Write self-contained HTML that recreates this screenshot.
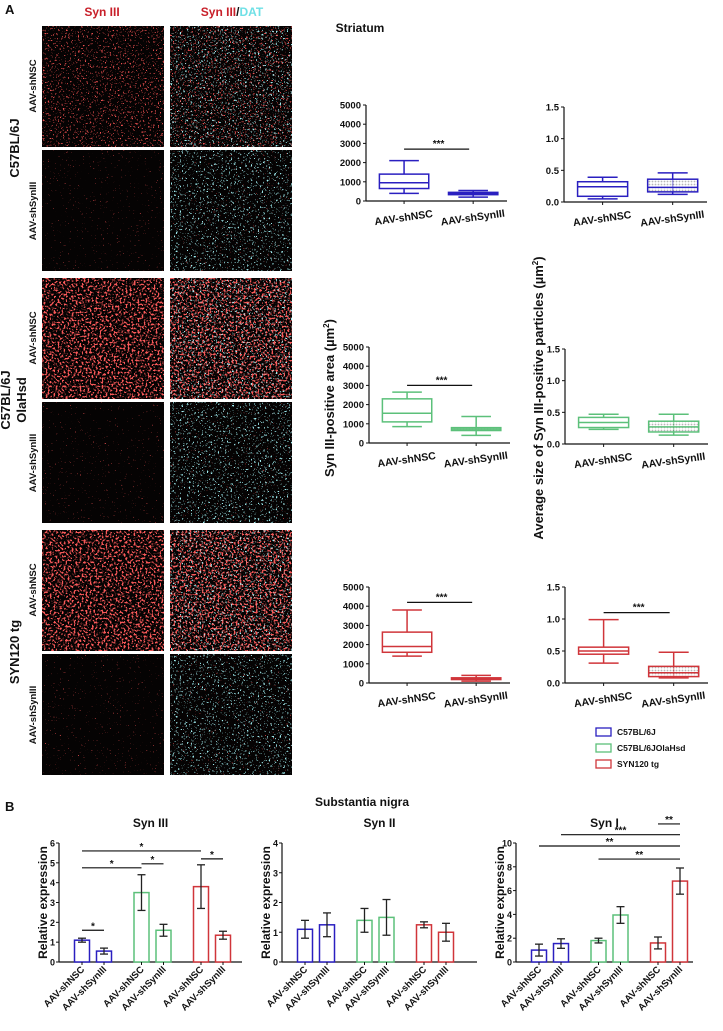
<!DOCTYPE html>
<html><head><meta charset="utf-8"><style>
body{margin:0;background:#fff;font-family:"Liberation Sans",Arial,sans-serif;}
svg text{font-family:"Liberation Sans",Arial,sans-serif;font-weight:bold;}
</style></head><body>
<svg id="fig" width="723" height="1026" viewBox="0 0 723 1026" xmlns="http://www.w3.org/2000/svg">
<defs>
<filter id="redHi" x="0" y="0" width="1" height="1"><feTurbulence type="fractalNoise" baseFrequency="0.5" numOctaves="2" seed="3"/><feColorMatrix type="matrix" values="0 0 0 0 0.95  0 0 0 0 0.1  0 0 0 0 0.1  20 0 0 0 -11.2"/></filter>
<filter id="redMid" x="0" y="0" width="1" height="1"><feTurbulence type="fractalNoise" baseFrequency="0.6" numOctaves="2" seed="7"/><feColorMatrix type="matrix" values="0 0 0 0 0.85  0 0 0 0 0.08  0 0 0 0 0.08  20 0 0 0 -12.8"/></filter>
<filter id="redLo" x="0" y="0" width="1" height="1"><feTurbulence type="fractalNoise" baseFrequency="0.6" numOctaves="2" seed="11"/><feColorMatrix type="matrix" values="0 0 0 0 0.5  0 0 0 0 0.05  0 0 0 0 0.05  20 0 0 0 -15.0"/></filter>
<filter id="cyan" x="0" y="0" width="1" height="1"><feTurbulence type="fractalNoise" baseFrequency="0.55" numOctaves="2" seed="21"/><feColorMatrix type="matrix" values="0 0 0 0 0.35  0 0 0 0 0.85  0 0 0 0 0.88  20 0 0 0 -13.0"/></filter>
<pattern id="hatch" width="3" height="3" patternUnits="userSpaceOnUse"><rect width="3" height="3" fill="#fff"/><circle cx="1.5" cy="1.5" r="0.9" fill="#888"/></pattern>
</defs>
<g id="imgs"></g>
<g id="charts"></g>
</svg>
<script>
// ---------- data ----------
const boxGroups = ["AAV-shNSC","AAV-shSynIII"];
const areaBlue  = [[400,650,950,1400,2100],[200,330,380,450,550]];
const areaGreen = [[850,1100,1550,2300,2650],[400,650,720,800,1380]];
const areaRed   = [[1400,1600,1900,2650,3800],[100,180,230,270,400]];
const sizeBlue  = [[0.05,0.09,0.24,0.32,0.39],[0.12,0.16,0.23,0.36,0.46]];
const sizeGreen = [[0.23,0.26,0.34,0.42,0.47],[0.14,0.19,0.27,0.36,0.47]];
const sizeRed   = [[0.31,0.45,0.50,0.56,0.99],[0.08,0.10,0.16,0.26,0.48]];
const areaTicks = [0,1000,2000,3000,4000,5000];
const sizeTicks = [0,0.5,1.0,1.5];
const barLabels = ["AAV-shNSC","AAV-shSynIII","AAV-shNSC","AAV-shSynIII","AAV-shNSC","AAV-shSynIII"];
const syn3Mean = [1.1,0.55,3.5,1.6,3.8,1.35];
const syn3Err  = [0.1,0.15,0.9,0.3,1.1,0.2];
const syn2Mean = [1.1,1.25,1.4,1.5,1.25,1.0];
const syn2Err  = [0.3,0.4,0.4,0.6,0.1,0.3];
const syn1Mean = [1.0,1.55,1.8,3.95,1.6,6.8];
const syn1Err  = [0.5,0.4,0.2,0.7,0.5,1.1];
const syn3Ticks=[0,1,2,3,4,5,6], syn2Ticks=[0,1,2,3,4], syn1Ticks=[0,2,4,6,8,10];
const colors=["#2a1fc0","#5cc07a","#d0353a"];
const NS="http://www.w3.org/2000/svg";
const C=document.getElementById('charts');
function el(tag,attrs,parent,text){const e=document.createElementNS(NS,tag);for(const k in attrs)e.setAttribute(k,attrs[k]);if(text!==undefined)e.textContent=text;(parent||C).appendChild(e);return e;}
function txt(x,y,s,size,anchor,parent,extra){const t=el('text',Object.assign({x:x,y:y,'font-size':size,'text-anchor':anchor||'middle',fill:'#111'},extra||{}),parent,s);return t;}

// ---------- images ----------
const I=document.getElementById('imgs');
const rows=[[26,121,'redMid'],[150,121,'redLo'],[278,121,'redHi'],[402,121,'redLo'],[530,121,'redHi'],[654,121,'redLo']];
rows.forEach((r,i)=>{
  [42,170].forEach((x,j)=>{
    const g=el('g',{},I);
    
    
    el('rect',{x:x,y:r[0],width:122,height:r[1],fill:'#050303'},g);
    el('rect',{x:x,y:r[0],width:122,height:r[1],filter:'url(#'+r[2]+')'},g);
    if(j==1) el('rect',{x:x,y:r[0],width:122,height:r[1],filter:'url(#cyan)'},g);
  });
});
let t;
t=txt(5,14,'A',13,'start');  
t=txt(102,16,'Syn III',12,'middle',C,{fill:'#c8202a'});  
t=el('text',{x:232,y:16,'font-size':12,'text-anchor':'middle'}); t.innerHTML='<tspan fill="#c8202a">Syn III</tspan><tspan fill="#111">/</tspan><tspan fill="#6fe0e6">DAT</tspan>';
 
const rowLabels=[[86,'AAV-shNSC'],[211,'AAV-shSynIII'],[338,'AAV-shNSC'],[463,'AAV-shSynIII'],[590,'AAV-shNSC'],[715,'AAV-shSynIII']];
rowLabels.forEach(([y,s],i)=>{t=txt(0,0,s,9.5,'middle',C,{transform:'translate(36,'+y+') rotate(-90)'});});
[[148,'C57BL/6J',null],[400,'C57BL/6J','OlaHsd'],[652,'SYN120 tg',null]].forEach(([y,a,b],i)=>{
  t=txt(0,0,a,13,'middle',C,{transform:'translate('+(b?10:19)+','+y+') rotate(-90)'});
  if(b){t=txt(0,0,b,13,'middle',C,{transform:'translate(26,'+y+') rotate(-90)'});}
});
t=txt(360,32,'Striatum',12);  
t=el('text',{'font-size':13,'text-anchor':'middle',transform:'translate(334,398) rotate(-90)',fill:'#111'});t.innerHTML='Syn III-positive area (µm<tspan font-size="8" dy="-5">2</tspan><tspan dy="5">)</tspan>';
 
t=el('text',{'font-size':13,'text-anchor':'middle',transform:'translate(543,398) rotate(-90)',fill:'#111'});t.innerHTML='Average size of Syn III-positive particles (µm<tspan font-size="8" dy="-5">2</tspan><tspan dy="5">)</tspan>';
 

// ---------- box plots ----------
function boxPlot(name,ax,yTop,yBot,xEnd,ticks,fmt,data,color,sig){
  const g=el('g',{});
  
  
  const max=ticks[ticks.length-1];
  const ys=v=>yBot-(v/max)*(yBot-yTop);
  el('line',{x1:ax,y1:yTop,x2:ax,y2:yBot,stroke:'#111','stroke-width':1.2},g);
  el('line',{x1:ax,y1:yBot,x2:xEnd,y2:yBot,stroke:'#111','stroke-width':1.2},g);
  ticks.forEach(v=>{el('line',{x1:ax-3,y1:ys(v),x2:ax,y2:ys(v),stroke:'#111'},g);
    const tt=txt(ax-5,ys(v)+3.5,fmt(v),9.5,'end',g);});
  const w=xEnd-ax, cx=[ax+0.27*w, ax+0.76*w], bw=0.35*w;
  data.forEach((d,i)=>{
    const x=cx[i];
    el('line',{x1:x,y1:yBot,x2:x,y2:yBot+3,stroke:'#111'},g);
    const b=el('g',{},g);
    
    
    el('line',{x1:x,y1:ys(d[0]),x2:x,y2:ys(d[4]),stroke:color,'stroke-width':1.5},b);
    el('line',{x1:x-bw*0.3,y1:ys(d[0]),x2:x+bw*0.3,y2:ys(d[0]),stroke:color,'stroke-width':1.5},b);
    el('line',{x1:x-bw*0.3,y1:ys(d[4]),x2:x+bw*0.3,y2:ys(d[4]),stroke:color,'stroke-width':1.5},b);
    el('rect',{x:x-bw/2,y:ys(d[3]),width:bw,height:Math.max(1,ys(d[1])-ys(d[3])),fill:i?'url(#hatch)':'#fff',stroke:color,'stroke-width':1.5,'fill-opacity':i?0.6:1},b);
    el('line',{x1:x-bw/2,y1:ys(d[2]),x2:x+bw/2,y2:ys(d[2]),stroke:color,'stroke-width':1.5},b);
    const tl=txt(0,0,boxGroups[i],10.5,'middle',g,{transform:'translate('+x+','+(yBot+20)+') rotate(-8)'});
    
  });
  if(sig){const yy=ys(sig);el('line',{x1:cx[0],y1:yy,x2:cx[1]-4,y2:yy,stroke:'#111','stroke-width':1.2},g);
    const s=txt((cx[0]+cx[1])/2,yy-2,'***',10,'middle',g);}
}
const fA=v=>String(v), fS=v=>v.toFixed(1);
boxPlot('area-plot-c57bl',366,105,201,507,areaTicks,fA,areaBlue,colors[0],2700);
boxPlot('size-plot-c57bl',564,107,202,707,sizeTicks,fS,sizeBlue,colors[0],null);
boxPlot('area-plot-olahsd',369,347,443,510,areaTicks,fA,areaGreen,colors[1],3000);
boxPlot('size-plot-olahsd',565,349,444,708,sizeTicks,fS,sizeGreen,colors[1],null);
boxPlot('area-plot-syn120',369,587,683,510,areaTicks,fA,areaRed,colors[2],4200);
boxPlot('size-plot-syn120',565,587,683,708,sizeTicks,fS,sizeRed,colors[2],1.1);

// ---------- legend ----------
[['C57BL/6J',0,735],['C57BL/6JOlaHsd',1,751],['SYN120 tg',2,767]].forEach(([s,c,y],i)=>{
  const g=el('g',{});
  el('rect',{x:596,y:y-7,width:15,height:8,fill:'#fff',stroke:colors[c],'stroke-width':1.3},g);
  txt(617,y,s,8.5,'start',g,{'font-weight':'normal'});
});

// ---------- bar charts ----------
t=txt(5,811,'B',13,'start');  
t=txt(362,806,'Substantia nigra',12);  
function barChart(name,title,ax,xEnd,ticks,means,errs,sigs){
  const g=el('g',{});
  const yTop=843,yBot=962,max=ticks[ticks.length-1];
  const ys=v=>yBot-(v/max)*(yBot-yTop);
  const xs=i=>ax+23+Math.floor(i/2)*59.5+(i%2)*22;
  const tt=txt((ax+xEnd)/2,827,title,12,'middle',g);
  el('line',{x1:ax,y1:yTop,x2:ax,y2:yBot,stroke:'#111','stroke-width':1.2},g);
  el('line',{x1:ax,y1:yBot,x2:xEnd,y2:yBot,stroke:'#111','stroke-width':1.2},g);
  ticks.forEach(v=>{el('line',{x1:ax-3,y1:ys(v),x2:ax,y2:ys(v),stroke:'#111'},g);
    const l=txt(ax-4,ys(v)+3.5,String(v),9,'end',g);});
  const yl=txt(0,0,'Relative expression',12,'middle',g,{transform:'translate('+(ax-12)+','+((yTop+yBot)/2)+') rotate(-90)'});
  
  means.forEach((m,i)=>{
    const x=xs(i),c=colors[Math.floor(i/2)];
    const b=el('rect',{x:x-7.5,y:ys(m),width:15,height:yBot-ys(m),fill:'#fff',stroke:c,'stroke-width':1.5},g);
    
    const e=errs[i];
    el('line',{x1:x,y1:ys(m-e),x2:x,y2:ys(m+e),stroke:'#222','stroke-width':1.3},g);
    el('line',{x1:x-4,y1:ys(m-e),x2:x+4,y2:ys(m-e),stroke:'#222','stroke-width':1.3},g);
    el('line',{x1:x-4,y1:ys(m+e),x2:x+4,y2:ys(m+e),stroke:'#222','stroke-width':1.3},g);
    el('line',{x1:x,y1:yBot,x2:x,y2:yBot+3,stroke:'#111'},g);
    const l=txt(0,0,barLabels[i],9.5,'end',g,{transform:'translate('+(x+3)+','+(yBot+8)+') rotate(-45)'});
    
  });
  sigs.forEach(([a,b,v,s])=>{const y=ys(v);el('line',{x1:xs(a),y1:y,x2:xs(b),y2:y,stroke:'#111','stroke-width':1.2},g);
    const st=txt((xs(a)+xs(b))/2,y-1,s,10,'middle',g);});
}
barChart('syn3-bar-chart','Syn III',59,242,syn3Ticks,syn3Mean,syn3Err,[[0,1,1.6,'*'],[0,4,5.6,'*'],[0,2,4.75,'*'],[2,3,4.95,'*'],[4,5,5.2,'*']]);
barChart('syn2-bar-chart','Syn II',282,477,syn2Ticks,syn2Mean,syn2Err,[]);
barChart('syn1-bar-chart','Syn I',516,693,syn1Ticks,syn1Mean,syn1Err,[[4,5,11.6,'**'],[1,5,10.7,'***'],[0,5,9.75,'**'],[2,5,8.65,'**']]);
</script>
</body></html>
